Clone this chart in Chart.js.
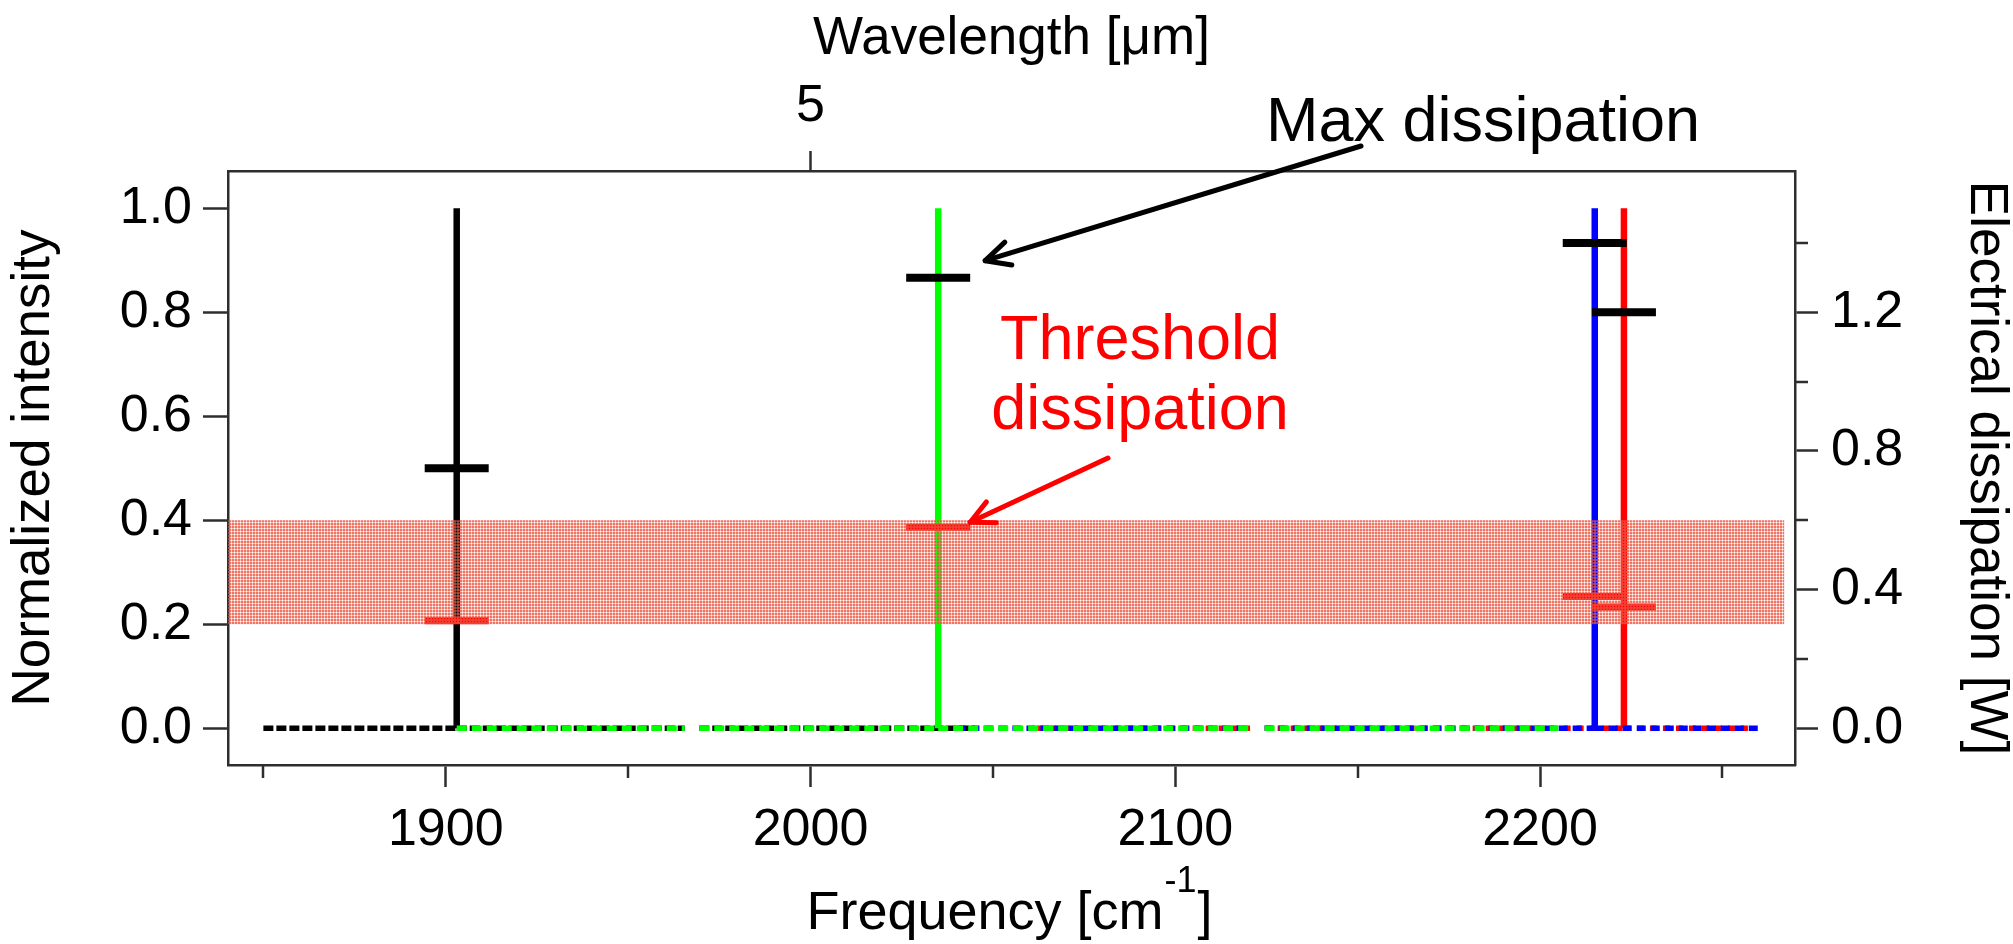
<!DOCTYPE html>
<html>
<head>
<meta charset="utf-8">
<title>Laser spectra and electrical dissipation</title>
<script src="https://cdn.jsdelivr.net/npm/chart.js"></script>
<style>
html,body{margin:0;padding:0;background:#ffffff;overflow:hidden;}
#wrap{position:relative;width:2013px;height:944px;}
canvas{display:block;}
</style>
</head>
<body>
<div id="wrap"><canvas id="chart" width="2013" height="944"></canvas></div>
<script>
// ---------------- data ----------------
const laserFreq = [1903, 2035, 2215, 2223];             // cm-1, peak positions
const maxDissipation = [0.75, 1.30, 1.40, 1.20];        // W
const thresholdDissipation = [0.31, 0.58, 0.38, 0.35];  // W

// spectra: frequency (cm-1) / normalized intensity (null = gap in trace)
const blackSpecX = [1850, 1903, 1903, 1903, 1965.5, 1967, 1969.5, 2045];
const blackSpecY = [0, 0, 1, 0, 0, null, 0, 0];
const greenSpecX = [1903, 1965.5, 1967, 1969.5, 2035, 2035, 2035, 2120.5, 2122, 2124.5, 2205];
const greenSpecY = [0, 0, null, 0, 0, 1, 0, 0, null, 0, 0];
const blueSpecX = [2040, 2120.5, 2122, 2124.5, 2215, 2215, 2215, 2260];
const blueSpecY = [0, 0, null, 0, 0, 1, 0, 0];
const redSpecX = [2062, 2120.5, 2122, 2124.5, 2223, 2223, 2223, 2258];
const redSpecY = [0, 0, null, 0, 0, 1, 0, 0];

// threshold dissipation range (W)
const bandX = [1840, 2267];
const bandLow = 0.3;
const bandHigh = 0.6;

// ticks
const freqMajorTicks = [1900, 2000, 2100, 2200];
const freqMinorTicks = [1850, 1950, 2050, 2150, 2250];
const wavelengthTicks = [5];                     // um
const intensityTicks = [0, 0.2, 0.4, 0.6, 0.8, 1.0];
const dissipationMajorTicks = [0, 0.4, 0.8, 1.2];
const dissipationMinorTicks = [0.2, 0.6, 1.0, 1.4];

// ---------------- style ----------------
const FONT = "'Liberation Sans', Arial, Helvetica, sans-serif";
const AXIS = '#2e2e2e';
const AXW = 2.5;

function makeStipple() {
  const c = document.createElement('canvas');
  c.width = 3; c.height = 3;
  const g = c.getContext('2d');
  g.fillStyle = 'rgba(240,120,100,0.45)';
  g.fillRect(0, 0, 3, 1);
  g.fillRect(0, 0, 1, 3);
  g.clearRect(0, 0, 1, 1);
  g.fillStyle = 'rgba(238,80,60,0.8)';
  g.fillRect(1, 1, 2, 2);
  return g.createPattern(c, 'repeat');
}

function pts(xs, ys) { return xs.map((v, i) => ({x: v, y: ys[i]})); }

function spectrum(label, xs, ys, color, dash) {
  const flat = c => c.p0.parsed.y === 0 && c.p1.parsed.y === 0;
  return {
    type: 'line', label, data: pts(xs, ys),
    xAxisID: 'x', yAxisID: 'y',
    borderColor: color, borderWidth: 6.5, pointRadius: 0, pointHoverRadius: 0,
    fill: false, tension: 0, spanGaps: false,
    borderJoinStyle: 'bevel', borderCapStyle: 'butt',
    segment: {
      borderDash: c => flat(c) ? dash : [],
      borderWidth: c => flat(c) ? 5.5 : 6.5
    }
  };
}

function markers(label, values, color, width) {
  return {
    type: 'line', label,
    data: laserFreq.map((f, i) => ({x: f, y: values[i]})),
    xAxisID: 'x', yAxisID: 'y2', showLine: false,
    pointStyle: 'line', pointRadius: 32, pointHoverRadius: 32,
    pointBorderWidth: width, pointHoverBorderWidth: width,
    pointBorderColor: color, pointBackgroundColor: color
  };
}

function fixedTicks(list) { return s => { s.ticks = list.map(v => ({value: v})); }; }

function drawArrow(ctx, x0, y0, x1, y1, color, lw, head, spread) {
  const a = Math.atan2(y0 - y1, x0 - x1);
  ctx.save();
  ctx.strokeStyle = color; ctx.lineWidth = lw; ctx.lineCap = 'round'; ctx.lineJoin = 'round';
  ctx.beginPath(); ctx.moveTo(x0, y0); ctx.lineTo(x1, y1); ctx.stroke();
  ctx.beginPath();
  ctx.moveTo(x1 + head * Math.cos(a - spread), y1 + head * Math.sin(a - spread));
  ctx.lineTo(x1, y1);
  ctx.lineTo(x1 + head * Math.cos(a + spread), y1 + head * Math.sin(a + spread));
  ctx.stroke();
  ctx.restore();
}

const extras = {
  id: 'extras',
  afterDraw(chart) {
    const {ctx, chartArea: ca, scales} = chart;
    const x = scales.x, y2 = scales.y2;
    ctx.save();
    // minor ticks
    ctx.strokeStyle = AXIS; ctx.lineWidth = AXW; ctx.lineCap = 'butt';
    freqMinorTicks.forEach(v => {
      const px = Math.round(x.getPixelForValue(v));
      ctx.beginPath(); ctx.moveTo(px, ca.bottom); ctx.lineTo(px, ca.bottom + 13); ctx.stroke();
    });
    dissipationMinorTicks.forEach(v => {
      const py = Math.round(y2.getPixelForValue(v));
      ctx.beginPath(); ctx.moveTo(ca.right, py); ctx.lineTo(ca.right + 13, py); ctx.stroke();
    });

    // bottom axis title with superscript
    ctx.fillStyle = '#000';
    ctx.textBaseline = 'alphabetic';
    ctx.textAlign = 'left';
    const f1 = '54px ' + FONT, f2 = '36px ' + FONT;
    ctx.font = f1;
    const t1 = 'Frequency [cm', t3 = ']';
    const w1 = ctx.measureText(t1).width, w3 = ctx.measureText(t3).width;
    ctx.font = f2;
    const t2 = '-1';
    const w2 = ctx.measureText(t2).width;
    const cx = (ca.left + ca.right) / 2 - 3;
    const sx = cx - (w1 + w2 + w3) / 2;
    const base = 929;
    ctx.font = f1; ctx.fillText(t1, sx, base);
    ctx.font = f2; ctx.fillText(t2, sx + w1 + 1, base - 37);
    ctx.font = f1; ctx.fillText(t3, sx + w1 + w2 + 2, base);

    // annotations anchored on the 2035 cm-1 laser markers
    const gx = x.getPixelForValue(laserFreq[1]);
    const maxY = y2.getPixelForValue(maxDissipation[1]);
    const thrY = y2.getPixelForValue(thresholdDissipation[1]);
    drawArrow(ctx, 1361, 146, gx + 32 + 15, maxY - 17, '#000', 5, 27, 0.46);
    drawArrow(ctx, 1108, 458, gx + 32, thrY - 5, '#ff0000', 5, 26, 0.46);

    ctx.textAlign = 'center';
    ctx.textBaseline = 'middle';
    ctx.fillStyle = '#000';
    ctx.font = '63px ' + FONT;
    ctx.fillText('Max dissipation', 1483, 124);
    ctx.fillStyle = '#ff0000';
    ctx.font = '63px ' + FONT;
    ctx.fillText('Threshold', 1140, 342);
    ctx.fillText('dissipation', 1140, 412);
    ctx.restore();
  }
};

const tickFont = {family: FONT, size: 52, lineHeight: 1};
const titleFont = {family: FONT, size: 53, lineHeight: 1};

new Chart(document.getElementById('chart'), {
  type: 'line',
  data: {
    datasets: [
      {
        type: 'line', label: 'Threshold range',
        data: bandX.map(v => ({x: v, y: bandHigh})),
        xAxisID: 'x', yAxisID: 'y2',
        borderWidth: 0, pointRadius: 0, pointHoverRadius: 0,
        fill: {value: bandLow}, backgroundColor: makeStipple()
      },
      markers('Threshold dissipation', thresholdDissipation, '#ff0000', 7),
      markers('Max dissipation', maxDissipation, '#000000', 8),
      spectrum('2035 cm-1', greenSpecX, greenSpecY, '#00ff00', [10, 5]),
      spectrum('2215 cm-1', blueSpecX, blueSpecY, '#0000ff', [9, 5]),
      spectrum('2223 cm-1', redSpecX, redSpecY, '#ff0000', [7, 6]),
      spectrum('1903 cm-1', blackSpecX, blackSpecY, '#000000', [10, 3])
    ]
  },
  options: {
    responsive: false,
    animation: false,
    events: [],
    layout: {padding: 0},
    plugins: {legend: {display: false}, tooltip: {enabled: false}},
    scales: {
      x: {
        type: 'linear', position: 'bottom', min: 1840.3, max: 2269.9,
        afterBuildTicks: fixedTicks(freqMajorTicks),
        afterFit: s => { s.height = 179; },
        ticks: {font: tickFont, color: '#000', padding: 18, maxRotation: 0, autoSkip: false,
                callback: v => String(v)},
        grid: {display: true, drawOnChartArea: false, drawTicks: true, tickLength: 22,
               tickWidth: AXW, tickColor: AXIS},
        border: {display: true, color: AXIS, width: AXW}
      },
      xTop: {
        type: 'linear', position: 'top', axis: 'x', min: 1840.3, max: 2269.9,
        afterBuildTicks: s => { s.ticks = wavelengthTicks.map(w => ({value: 1e4 / w})); },
        afterFit: s => { s.height = 171; },
        ticks: {font: tickFont, color: '#000', padding: 18, maxRotation: 0, autoSkip: false,
                callback: v => String(Math.round(1e4 / v))},
        grid: {display: true, drawOnChartArea: false, drawTicks: true, tickLength: 20,
               tickWidth: AXW, tickColor: AXIS},
        border: {display: true, color: AXIS, width: AXW},
        title: {display: true, text: 'Wavelength [\u03bcm]', color: '#000', font: titleFont,
                padding: {top: 13, bottom: 0}}
      },
      y: {
        type: 'linear', position: 'left', min: -0.0706, max: 1.0718,
        afterBuildTicks: fixedTicks(intensityTicks),
        afterFit: s => { s.width = 228; },
        ticks: {font: tickFont, color: '#000', padding: 11, autoSkip: false,
                callback: v => v.toFixed(1)},
        grid: {display: true, drawOnChartArea: false, drawTicks: true, tickLength: 25,
               tickWidth: AXW, tickColor: AXIS},
        border: {display: true, color: AXIS, width: AXW},
        title: {display: true, text: 'Normalized intensity', color: '#000', font: titleFont,
                padding: {top: 8, bottom: 0}}
      },
      y2: {
        type: 'linear', position: 'right', min: -0.1059, max: 1.6077,
        afterBuildTicks: fixedTicks(dissipationMajorTicks),
        afterFit: s => { s.width = 218; },
        ticks: {font: tickFont, color: '#000', padding: 13, autoSkip: false,
                callback: v => v.toFixed(1)},
        grid: {display: true, drawOnChartArea: false, drawTicks: true, tickLength: 23,
               tickWidth: AXW, tickColor: AXIS},
        border: {display: true, color: AXIS, width: AXW},
        title: {display: true, text: 'Electrical dissipation [W]', color: '#000', font: titleFont,
                padding: {top: 1, bottom: 0}}
      }
    }
  },
  plugins: [extras]
});
</script>
</body>
</html>
